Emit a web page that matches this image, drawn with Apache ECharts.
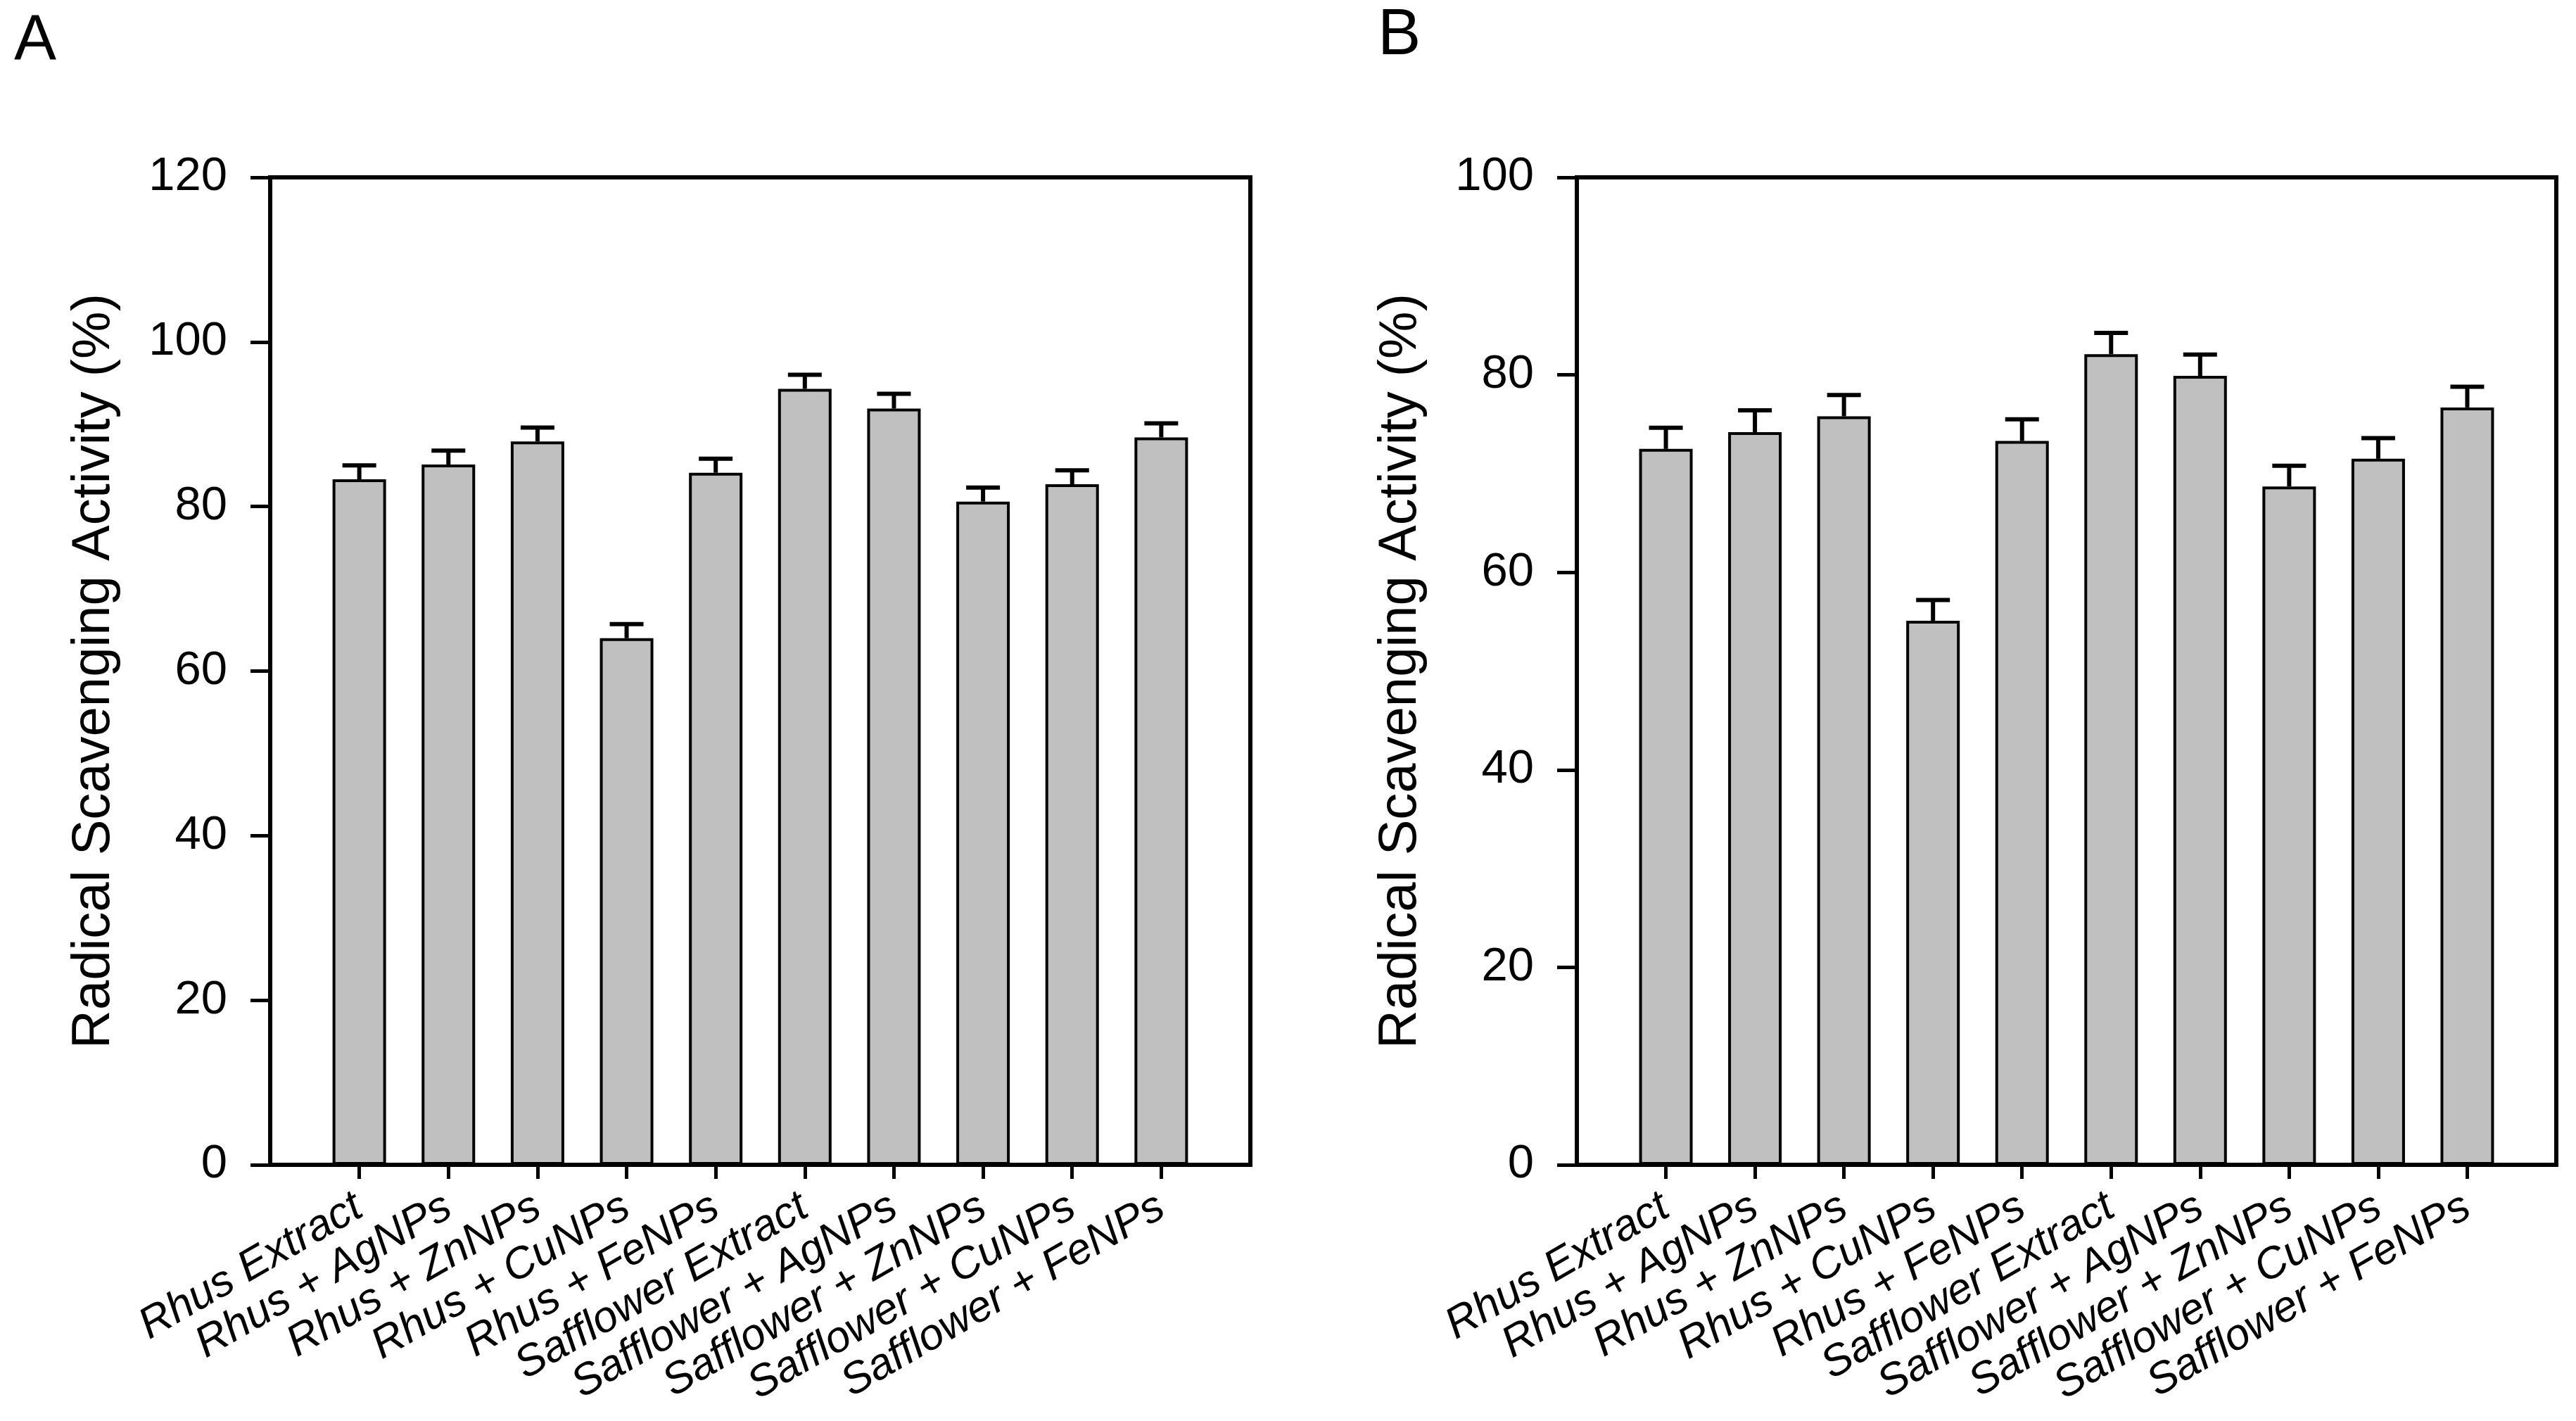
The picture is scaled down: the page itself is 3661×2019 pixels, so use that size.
<!DOCTYPE html>
<html>
<head>
<meta charset="utf-8">
<script src="https://cdn.jsdelivr.net/npm/echarts@6/dist/echarts.min.js"></script>
<style>
html,body{margin:0;padding:0;background:#fff;}
#chart{width:3661px;height:2019px;}
</style>
</head>
<body>
<div id="chart"></div>
<script>
const categories = ['Rhus Extract','Rhus + AgNPs','Rhus + ZnNPs','Rhus + CuNPs','Rhus + FeNPs',
  'Safflower Extract','Safflower + AgNPs','Safflower + ZnNPs','Safflower + CuNPs','Safflower + FeNPs'];
const valuesA = [83.3, 85.1, 87.9, 64.0, 84.1, 94.3, 91.9, 80.6, 82.7, 88.4];
const errorsA = [1.7, 1.7, 1.7, 1.7, 1.7, 1.7, 1.8, 1.7, 1.7, 1.7];
const valuesB = [72.5, 74.2, 75.8, 55.1, 73.3, 82.1, 79.9, 68.7, 71.5, 76.7];
const errorsB = [2.15, 2.2, 2.15, 2.1, 2.2, 2.15, 2.15, 2.1, 2.1, 2.1];
const yTicksA = {min: 0, max: 120, interval: 20};
const yTicksB = {min: 0, max: 100, interval: 20};
const yTitle = 'Radical Scavenging Activity (%)';
const panelLabels = ['A', 'B'];

const FONT = '"Liberation Sans", Arial, sans-serif';
const positions = categories.map((c, i) => i + 1);

function xAxis(gridIndex) {
  return {
    type: 'value', gridIndex: gridIndex, min: 0, max: categories.length + 1, interval: 1,
    splitLine: {show: false},
    axisLine: {show: true, lineStyle: {color: '#000', width: 6}},
    axisTick: {show: true, length: 20, inside: false, customValues: positions, lineStyle: {color: '#000', width: 5}},
    axisLabel: {
      show: true, customValues: positions, rotate: 30, margin: 56,
      fontFamily: FONT, fontSize: 62, fontStyle: 'italic', color: '#000',
      formatter: function (v) { return categories[Math.round(v) - 1] || ''; }
    }
  };
}
function yAxis(gridIndex, t) {
  return {
    type: 'value', gridIndex: gridIndex, min: t.min, max: t.max, interval: t.interval,
    splitLine: {show: false},
    axisLine: {show: true, lineStyle: {color: '#000', width: 6}},
    axisTick: {show: true, length: 28, inside: false, lineStyle: {color: '#000', width: 5}},
    axisLabel: {show: true, margin: 61, fontFamily: FONT, fontSize: 67, color: '#000'},
    name: yTitle, nameLocation: 'middle', nameGap: 212,
    nameTextStyle: {fontFamily: FONT, fontSize: 76, color: '#000'}
  };
}
function barSeries(idx, values) {
  return {
    type: 'bar', xAxisIndex: idx, yAxisIndex: idx, barWidth: 76,
    data: values.map((v, i) => [positions[i], v]),
    itemStyle: {color: '#c0c0c0', borderColor: '#000', borderWidth: 4},
    z: 2, animation: false
  };
}
function errSeries(idx, values, errors) {
  return {
    type: 'custom', xAxisIndex: idx, yAxisIndex: idx, z: 3, animation: false,
    data: values.map((v, i) => [positions[i], v, errors[i]]),
    encode: {x: 0, y: 1},
    renderItem: function (params, api) {
      const x = api.value(0), v = api.value(1), e = api.value(2);
      const p0 = api.coord([x, v]);
      const p1 = api.coord([x, v + e]);
      const style = {stroke: '#000', lineWidth: 6};
      return {
        type: 'group',
        children: [
          {type: 'line', shape: {x1: p0[0], y1: p0[1], x2: p1[0], y2: p1[1]}, style: style},
          {type: 'line', shape: {x1: p1[0] - 24, y1: p1[1], x2: p1[0] + 24, y2: p1[1]}, style: style}
        ]
      };
    }
  };
}

const chart = echarts.init(document.getElementById('chart'), null, {renderer: 'canvas'});
chart.setOption({
  backgroundColor: '#fff',
  animation: false,
  grid: [
    {left: 384, top: 252, width: 1393, height: 1403, show: true, borderColor: '#000', borderWidth: 6, backgroundColor: 'transparent'},
    {left: 2241, top: 252, width: 1392, height: 1403, show: true, borderColor: '#000', borderWidth: 6, backgroundColor: 'transparent'}
  ],
  xAxis: [xAxis(0), xAxis(1)],
  yAxis: [yAxis(0, yTicksA), yAxis(1, yTicksB)],
  graphic: [
    {type: 'text', left: 20, top: 14, style: {text: panelLabels[0], font: '90px ' + FONT, fill: '#000'}},
    {type: 'text', left: 1958, top: 6, style: {text: panelLabels[1], font: '92px ' + FONT, fill: '#000'}}
  ],
  series: [
    barSeries(0, valuesA), errSeries(0, valuesA, errorsA),
    barSeries(1, valuesB), errSeries(1, valuesB, errorsB)
  ]
});
</script>
</body>
</html>
